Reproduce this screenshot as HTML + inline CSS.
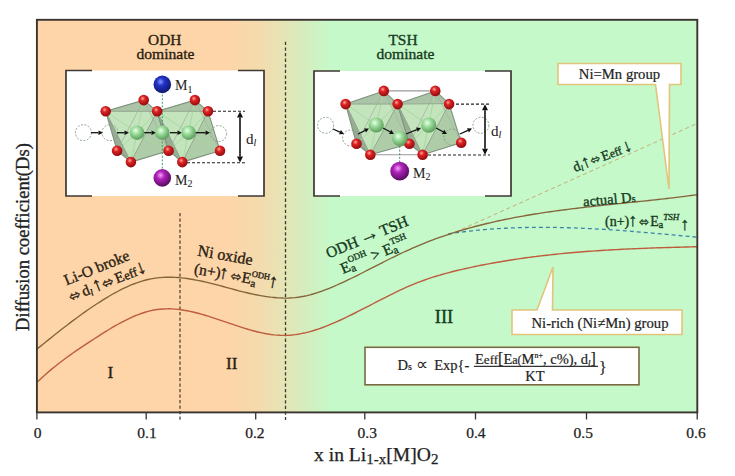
<!DOCTYPE html>
<html><head><meta charset="utf-8"><style>
html,body{margin:0;padding:0;background:#fff;width:735px;height:476px;overflow:hidden}
svg{display:block}
text{font-family:"Liberation Serif", serif}
</style></head><body>
<svg width="735" height="476" viewBox="0 0 735 476">
<defs>
<linearGradient id="bg" x1="37" x2="697" y1="0" y2="0" gradientUnits="userSpaceOnUse">
<stop offset="0" stop-color="#fdd5a8"/>
<stop offset="0.292" stop-color="#fdd5a8"/>
<stop offset="0.342" stop-color="#f2dcae"/>
<stop offset="0.376" stop-color="#e4e5b6"/>
<stop offset="0.41" stop-color="#d4eebf"/>
<stop offset="0.445" stop-color="#c6f9c9"/>
<stop offset="1" stop-color="#c6f9c9"/>
</linearGradient>
<radialGradient id="gred" cx="0.4" cy="0.35" r="0.65"><stop offset="0" stop-color="#ffa8a0"/><stop offset="0.35" stop-color="#dc2424"/><stop offset="1" stop-color="#940a0e"/></radialGradient>
<radialGradient id="ggrn" cx="0.4" cy="0.35" r="0.65"><stop offset="0" stop-color="#e8ffe8"/><stop offset="0.45" stop-color="#96d896"/><stop offset="1" stop-color="#5c9c5c"/></radialGradient>
<radialGradient id="gblu" cx="0.4" cy="0.35" r="0.65"><stop offset="0" stop-color="#8898ff"/><stop offset="0.35" stop-color="#2232c8"/><stop offset="1" stop-color="#101870"/></radialGradient>
<radialGradient id="gpur" cx="0.4" cy="0.35" r="0.65"><stop offset="0" stop-color="#f8a0ff"/><stop offset="0.35" stop-color="#b024b8"/><stop offset="1" stop-color="#560c60"/></radialGradient>
</defs><rect x="37" y="20" width="660" height="392" fill="url(#bg)"/><line x1="180" y1="213" x2="180" y2="420" stroke="#584634" stroke-width="1.3" stroke-dasharray="3.3,2.2"/><line x1="285.5" y1="41.8" x2="285.5" y2="420" stroke="#3c3a2c" stroke-width="1.3" stroke-dasharray="3.3,2.3"/><rect x="66" y="70.5" width="198" height="125.5" fill="#fff"/><path d="M92,70.5 H66 V196 H92" stroke="#3d3833" stroke-width="1.7" fill="none"/><path d="M238,70.5 H264 V196 H238" stroke="#3d3833" stroke-width="1.7" fill="none"/><polygon points="105.7,111.3 143.7,100.1 157.1,111.3 168.6,150.7 130.9,162.1 117.1,150.7" fill="#b8d2b2"/><polygon points="117.1,150.7 130.9,162.1 168.6,150.7" fill="#a8c2a4"/><polygon points="105.7,111.3 143.7,100.1 157.1,111.3" fill="#abc4a7"/><polygon points="105.7,111.3 157.1,111.3 130.9,162.1" fill="#c4e6bc" opacity="0.9"/><polygon points="105.7,111.3 117.1,150.7 130.9,162.1" fill="#97ae94"/><polygon points="157.1,111.3 130.9,162.1 168.6,150.7" fill="#afcca9"/><line x1="137.1" y1="132.7" x2="105.7" y2="111.3" stroke="#a6d89e" stroke-width="0.9"/><line x1="137.1" y1="132.7" x2="143.7" y2="100.1" stroke="#a6d89e" stroke-width="0.9"/><line x1="137.1" y1="132.7" x2="157.1" y2="111.3" stroke="#a6d89e" stroke-width="0.9"/><line x1="137.1" y1="132.7" x2="117.1" y2="150.7" stroke="#a6d89e" stroke-width="0.9"/><line x1="137.1" y1="132.7" x2="130.9" y2="162.1" stroke="#a6d89e" stroke-width="0.9"/><line x1="137.1" y1="132.7" x2="168.6" y2="150.7" stroke="#a6d89e" stroke-width="0.9"/><polyline points="117.1,150.7 143.7,100.1 168.6,150.7" fill="none" stroke="#a0b89c" stroke-width="0.8"/><polygon points="105.7,111.3 143.7,100.1 157.1,111.3 168.6,150.7 130.9,162.1 117.1,150.7" fill="none" stroke="#7f937d" stroke-width="1.1" stroke-linejoin="round"/><polyline points="105.7,111.3 157.1,111.3 130.9,162.1 105.7,111.3" fill="none" stroke="#8ea38c" stroke-width="0.9"/><polygon points="157.1,111.3 194.9,100.1 208,111.3 220,150.7 182.3,162.1 168.6,150.7" fill="#b8d2b2"/><polygon points="168.6,150.7 182.3,162.1 220,150.7" fill="#a8c2a4"/><polygon points="157.1,111.3 194.9,100.1 208,111.3" fill="#abc4a7"/><polygon points="157.1,111.3 208,111.3 182.3,162.1" fill="#c4e6bc" opacity="0.9"/><polygon points="157.1,111.3 168.6,150.7 182.3,162.1" fill="#97ae94"/><polygon points="208,111.3 182.3,162.1 220,150.7" fill="#afcca9"/><line x1="188.6" y1="132.7" x2="157.1" y2="111.3" stroke="#a6d89e" stroke-width="0.9"/><line x1="188.6" y1="132.7" x2="194.9" y2="100.1" stroke="#a6d89e" stroke-width="0.9"/><line x1="188.6" y1="132.7" x2="208" y2="111.3" stroke="#a6d89e" stroke-width="0.9"/><line x1="188.6" y1="132.7" x2="168.6" y2="150.7" stroke="#a6d89e" stroke-width="0.9"/><line x1="188.6" y1="132.7" x2="182.3" y2="162.1" stroke="#a6d89e" stroke-width="0.9"/><line x1="188.6" y1="132.7" x2="220" y2="150.7" stroke="#a6d89e" stroke-width="0.9"/><polyline points="168.6,150.7 194.9,100.1 220,150.7" fill="none" stroke="#a0b89c" stroke-width="0.8"/><polygon points="157.1,111.3 194.9,100.1 208,111.3 220,150.7 182.3,162.1 168.6,150.7" fill="none" stroke="#7f937d" stroke-width="1.1" stroke-linejoin="round"/><polyline points="157.1,111.3 208,111.3 182.3,162.1 157.1,111.3" fill="none" stroke="#8ea38c" stroke-width="0.9"/><line x1="162.3" y1="91" x2="162.3" y2="171" stroke="#3f9a6a" stroke-width="1" stroke-dasharray="2,1.6"/><circle cx="83.4" cy="132.7" r="8" fill="none" stroke="#7f9a80" stroke-width="0.9" stroke-dasharray="2,1.5"/><circle cx="110" cy="132.7" r="8" fill="none" stroke="#7f9a80" stroke-width="0.9" stroke-dasharray="2,1.5"/><circle cx="218.6" cy="133.6" r="8" fill="none" stroke="#7f9a80" stroke-width="0.9" stroke-dasharray="2,1.5"/><line x1="91" y1="132.7" x2="98.5" y2="132.7" stroke="#111" stroke-width="1.3"/><polygon points="103,132.7 98.5,135.0 98.5,130.4" fill="#111"/><line x1="117" y1="132.7" x2="124.5" y2="132.7" stroke="#111" stroke-width="1.3"/><polygon points="129,132.7 124.5,135.0 124.5,130.4" fill="#111"/><line x1="144" y1="132.7" x2="151.5" y2="132.7" stroke="#111" stroke-width="1.3"/><polygon points="156,132.7 151.5,135.0 151.5,130.4" fill="#111"/><line x1="170" y1="132.7" x2="177.5" y2="132.7" stroke="#111" stroke-width="1.3"/><polygon points="182,132.7 177.5,135.0 177.5,130.4" fill="#111"/><line x1="195" y1="132.7" x2="205.5" y2="132.7" stroke="#111" stroke-width="1.3"/><polygon points="210,132.7 205.5,135.0 205.5,130.4" fill="#111"/><circle cx="105.7" cy="111.3" r="5.3" fill="url(#gred)"/><circle cx="143.7" cy="100.1" r="5.3" fill="url(#gred)"/><circle cx="157.1" cy="111.3" r="5.3" fill="url(#gred)"/><circle cx="194.9" cy="100.1" r="5.3" fill="url(#gred)"/><circle cx="208" cy="111.3" r="5.3" fill="url(#gred)"/><circle cx="117.1" cy="150.7" r="5.3" fill="url(#gred)"/><circle cx="130.9" cy="162.1" r="5.3" fill="url(#gred)"/><circle cx="168.6" cy="150.7" r="5.3" fill="url(#gred)"/><circle cx="182.3" cy="162.1" r="5.3" fill="url(#gred)"/><circle cx="220" cy="150.7" r="5.3" fill="url(#gred)"/><circle cx="137.1" cy="132.7" r="7.2" fill="url(#ggrn)"/><circle cx="162.3" cy="132.7" r="7.2" fill="url(#ggrn)"/><circle cx="188.6" cy="132.7" r="7.2" fill="url(#ggrn)"/><circle cx="162.3" cy="84.4" r="8.8" fill="url(#gblu)"/><circle cx="162.3" cy="177.9" r="8.8" fill="url(#gpur)"/><text x="175" y="90" font-size="14" fill="#222222" stroke="#222222" stroke-width="0.05" text-anchor="start" >M<tspan font-size="10" dy="2.5">1</tspan></text><text x="175" y="184.5" font-size="14" fill="#222222" stroke="#222222" stroke-width="0.05" text-anchor="start" >M<tspan font-size="10" dy="2.5">2</tspan></text><line x1="213" y1="111.3" x2="245" y2="111.3" stroke="#222" stroke-width="1.1" stroke-dasharray="3,2"/><line x1="187" y1="162.7" x2="245" y2="162.7" stroke="#222" stroke-width="1.1" stroke-dasharray="3,2"/><line x1="240" y1="137" x2="240.0" y2="117.5" stroke="#111" stroke-width="1.6"/><polygon points="240,111.5 243.0,117.5 237.0,117.5" fill="#111"/><line x1="240" y1="137" x2="240.0" y2="156.5" stroke="#111" stroke-width="1.6"/><polygon points="240,162.5 237.0,156.5 243.0,156.5" fill="#111"/><text x="246" y="144" font-size="15" fill="#222222" stroke="#222222" stroke-width="0.05" text-anchor="start" >d<tspan font-size="10" dy="2" font-style="italic">l</tspan></text><rect x="314" y="71" width="197" height="125" fill="#fff"/><path d="M340,71 H314 V196 H340" stroke="#3d3833" stroke-width="1.7" fill="none"/><path d="M485,71 H511 V196 H485" stroke="#3d3833" stroke-width="1.7" fill="none"/><line x1="383.8" y1="90.9" x2="435.3" y2="90.9" stroke="#9a9a9a" stroke-width="1.1"/><line x1="370.3" y1="154.7" x2="422.6" y2="154.7" stroke="#9a9a9a" stroke-width="1.1"/><polygon points="345.6,104.1 383.8,90.9 397.6,104.1 409.4,143.8 370.3,154.7 356.5,143.8" fill="#b8d2b2"/><polygon points="356.5,143.8 370.3,154.7 409.4,143.8" fill="#a8c2a4"/><polygon points="345.6,104.1 383.8,90.9 397.6,104.1" fill="#abc4a7"/><polygon points="345.6,104.1 397.6,104.1 370.3,154.7" fill="#c4e6bc" opacity="0.9"/><polygon points="345.6,104.1 356.5,143.8 370.3,154.7" fill="#97ae94"/><polygon points="397.6,104.1 370.3,154.7 409.4,143.8" fill="#afcca9"/><line x1="376.2" y1="125" x2="345.6" y2="104.1" stroke="#a6d89e" stroke-width="0.9"/><line x1="376.2" y1="125" x2="383.8" y2="90.9" stroke="#a6d89e" stroke-width="0.9"/><line x1="376.2" y1="125" x2="397.6" y2="104.1" stroke="#a6d89e" stroke-width="0.9"/><line x1="376.2" y1="125" x2="356.5" y2="143.8" stroke="#a6d89e" stroke-width="0.9"/><line x1="376.2" y1="125" x2="370.3" y2="154.7" stroke="#a6d89e" stroke-width="0.9"/><line x1="376.2" y1="125" x2="409.4" y2="143.8" stroke="#a6d89e" stroke-width="0.9"/><polyline points="356.5,143.8 383.8,90.9 409.4,143.8" fill="none" stroke="#a0b89c" stroke-width="0.8"/><polygon points="345.6,104.1 383.8,90.9 397.6,104.1 409.4,143.8 370.3,154.7 356.5,143.8" fill="none" stroke="#7f937d" stroke-width="1.1" stroke-linejoin="round"/><polyline points="345.6,104.1 397.6,104.1 370.3,154.7 345.6,104.1" fill="none" stroke="#8ea38c" stroke-width="0.9"/><polygon points="397.6,104.1 435.3,90.9 449.1,103.6 461.2,142.7 422.6,154.7 409.4,143.8" fill="#b8d2b2"/><polygon points="409.4,143.8 422.6,154.7 461.2,142.7" fill="#a8c2a4"/><polygon points="397.6,104.1 435.3,90.9 449.1,103.6" fill="#abc4a7"/><polygon points="397.6,104.1 449.1,103.6 422.6,154.7" fill="#c4e6bc" opacity="0.9"/><polygon points="397.6,104.1 409.4,143.8 422.6,154.7" fill="#97ae94"/><polygon points="449.1,103.6 422.6,154.7 461.2,142.7" fill="#afcca9"/><line x1="428.7" y1="125.2" x2="397.6" y2="104.1" stroke="#a6d89e" stroke-width="0.9"/><line x1="428.7" y1="125.2" x2="435.3" y2="90.9" stroke="#a6d89e" stroke-width="0.9"/><line x1="428.7" y1="125.2" x2="449.1" y2="103.6" stroke="#a6d89e" stroke-width="0.9"/><line x1="428.7" y1="125.2" x2="409.4" y2="143.8" stroke="#a6d89e" stroke-width="0.9"/><line x1="428.7" y1="125.2" x2="422.6" y2="154.7" stroke="#a6d89e" stroke-width="0.9"/><line x1="428.7" y1="125.2" x2="461.2" y2="142.7" stroke="#a6d89e" stroke-width="0.9"/><polyline points="409.4,143.8 435.3,90.9 461.2,142.7" fill="none" stroke="#a0b89c" stroke-width="0.8"/><polygon points="397.6,104.1 435.3,90.9 449.1,103.6 461.2,142.7 422.6,154.7 409.4,143.8" fill="none" stroke="#7f937d" stroke-width="1.1" stroke-linejoin="round"/><polyline points="397.6,104.1 449.1,103.6 422.6,154.7 397.6,104.1" fill="none" stroke="#8ea38c" stroke-width="0.9"/><line x1="399.7" y1="146" x2="399.7" y2="163" stroke="#3f9a6a" stroke-width="1" stroke-dasharray="2,1.6"/><circle cx="325.6" cy="125.3" r="8" fill="none" stroke="#7f9a80" stroke-width="0.9" stroke-dasharray="2,1.5"/><circle cx="350.6" cy="138" r="8" fill="none" stroke="#7f9a80" stroke-width="0.9" stroke-dasharray="2,1.5"/><circle cx="452" cy="137" r="8" fill="none" stroke="#7f9a80" stroke-width="0.9" stroke-dasharray="2,1.5"/><circle cx="480.9" cy="125.3" r="8" fill="none" stroke="#7f9a80" stroke-width="0.9" stroke-dasharray="2,1.5"/><line x1="333" y1="129" x2="339.9" y2="132.1" stroke="#111" stroke-width="1.3"/><polygon points="344,134 339.0,134.2 340.9,130.0" fill="#111"/><line x1="358" y1="134" x2="365.0" y2="130.5" stroke="#111" stroke-width="1.3"/><polygon points="369,128.5 366.0,132.6 363.9,128.5" fill="#111"/><line x1="383" y1="128" x2="390.0" y2="131.8" stroke="#111" stroke-width="1.3"/><polygon points="394,134 388.9,133.9 391.2,129.8" fill="#111"/><line x1="406" y1="134" x2="416.8" y2="129.7" stroke="#111" stroke-width="1.3"/><polygon points="421,128 417.7,131.8 416.0,127.5" fill="#111"/><line x1="436" y1="128" x2="443.0" y2="131.8" stroke="#111" stroke-width="1.3"/><polygon points="447,134 441.9,133.9 444.2,129.8" fill="#111"/><line x1="460" y1="134" x2="467.9" y2="130.4" stroke="#111" stroke-width="1.3"/><polygon points="472,128.5 468.9,132.5 467.0,128.3" fill="#111"/><circle cx="345.6" cy="104.1" r="5.3" fill="url(#gred)"/><circle cx="383.8" cy="90.9" r="5.3" fill="url(#gred)"/><circle cx="397.6" cy="104.1" r="5.3" fill="url(#gred)"/><circle cx="435.3" cy="90.9" r="5.3" fill="url(#gred)"/><circle cx="449.1" cy="104.1" r="5.3" fill="url(#gred)"/><circle cx="356.5" cy="143.8" r="5.3" fill="url(#gred)"/><circle cx="370.3" cy="154.7" r="5.3" fill="url(#gred)"/><circle cx="409.4" cy="143.8" r="5.3" fill="url(#gred)"/><circle cx="422.6" cy="154.7" r="5.3" fill="url(#gred)"/><circle cx="461.2" cy="142.7" r="5.3" fill="url(#gred)"/><circle cx="376.2" cy="125" r="7.6" fill="url(#ggrn)"/><circle cx="399.7" cy="138.5" r="7.6" fill="url(#ggrn)"/><circle cx="428.7" cy="125.2" r="7.6" fill="url(#ggrn)"/><circle cx="399.7" cy="171.2" r="9.4" fill="url(#gpur)"/><text x="413" y="177.5" font-size="14" fill="#222222" stroke="#222222" stroke-width="0.05" text-anchor="start" >M<tspan font-size="10" dy="2.5">2</tspan></text><line x1="456" y1="104.1" x2="490" y2="104.1" stroke="#222" stroke-width="1.1" stroke-dasharray="3,2"/><line x1="428" y1="155" x2="490" y2="155" stroke="#222" stroke-width="1.1" stroke-dasharray="3,2"/><line x1="485" y1="130" x2="485.0" y2="110.3" stroke="#111" stroke-width="1.6"/><polygon points="485,104.3 488.0,110.3 482.0,110.3" fill="#111"/><line x1="485" y1="130" x2="485.0" y2="148.8" stroke="#111" stroke-width="1.6"/><polygon points="485,154.8 482.0,148.8 488.0,148.8" fill="#111"/><text x="491" y="135.5" font-size="15" fill="#222222" stroke="#222222" stroke-width="0.05" text-anchor="start" >d<tspan font-size="10" dy="2" font-style="italic">l</tspan></text><line x1="449" y1="235" x2="697" y2="123.5" stroke="#c8aa74" stroke-width="1" stroke-dasharray="4,3"/><path d="M448.2,233.92 L451.2,233.47 L454.2,233.04 L457.2,232.62 L460.2,232.23 L463.2,231.85 L466.2,231.48 L469.2,231.14 L472.2,230.81 L475.2,230.50 L478.2,230.20 L481.2,229.92 L484.2,229.66 L487.2,229.41 L490.2,229.18 L493.2,228.96 L496.2,228.76 L499.2,228.57 L502.2,228.39 L505.2,228.23 L508.2,228.09 L511.2,227.95 L514.2,227.83 L517.2,227.73 L520.2,227.63 L523.2,227.55 L526.2,227.49 L529.2,227.43 L532.2,227.39 L535.2,227.36 L538.2,227.34 L541.2,227.33 L544.2,227.33 L547.2,227.35 L550.2,227.37 L553.2,227.41 L556.2,227.45 L559.2,227.51 L562.2,227.58 L565.2,227.65 L568.2,227.74 L571.2,227.83 L574.2,227.93 L577.2,228.05 L580.2,228.17 L583.2,228.30 L586.2,228.43 L589.2,228.58 L592.2,228.73 L595.2,228.89 L598.2,229.06 L601.2,229.23 L604.2,229.42 L607.2,229.60 L610.2,229.80 L613.2,230.00 L616.2,230.20 L619.2,230.42 L622.2,230.63 L625.2,230.86 L628.2,231.08 L631.2,231.32 L634.2,231.55 L637.2,231.79 L640.2,232.04 L643.2,232.29 L646.2,232.54 L649.2,232.80 L652.2,233.06 L655.2,233.32 L658.2,233.59 L661.2,233.85 L664.2,234.12 L667.2,234.40 L670.2,234.67 L673.2,234.95 L676.2,235.22 L679.2,235.50 L682.2,235.78 L685.2,236.06 L688.2,236.34 L691.2,236.63 L697.0,237.17" fill="none" stroke="#3a84a8" stroke-width="1.3" stroke-dasharray="4,3"/><path d="M37.0,349.08 L40.0,346.64 L43.0,344.20 L46.0,341.77 L49.0,339.35 L52.0,336.95 L55.0,334.56 L58.0,332.19 L61.0,329.84 L64.0,327.50 L67.0,325.19 L70.0,322.91 L73.0,320.65 L76.0,318.42 L79.0,316.22 L82.0,314.05 L85.0,311.91 L88.0,309.82 L91.0,307.75 L94.0,305.73 L97.0,303.75 L100.0,301.81 L103.0,299.92 L106.0,298.08 L109.0,296.28 L112.0,294.54 L115.0,292.86 L118.0,291.24 L121.0,289.69 L124.0,288.21 L127.0,286.81 L130.0,285.49 L133.0,284.25 L136.0,283.10 L139.0,282.05 L142.0,281.09 L145.0,280.24 L148.0,279.49 L151.0,278.86 L154.0,278.33 L157.0,277.91 L160.0,277.59 L163.0,277.37 L166.0,277.23 L169.0,277.19 L172.0,277.23 L175.0,277.35 L178.0,277.54 L181.0,277.81 L184.0,278.14 L187.0,278.53 L190.0,278.98 L193.0,279.49 L196.0,280.04 L199.0,280.64 L202.0,281.28 L205.0,281.95 L208.0,282.66 L211.0,283.39 L214.0,284.15 L217.0,284.93 L220.0,285.72 L223.0,286.52 L226.0,287.33 L229.0,288.13 L232.0,288.94 L235.0,289.74 L238.0,290.53 L241.0,291.30 L244.0,292.05 L247.0,292.77 L250.0,293.47 L253.0,294.14 L256.0,294.77 L259.0,295.35 L262.0,295.89 L265.0,296.38 L268.0,296.82 L271.0,297.20 L274.0,297.51 L277.0,297.76 L280.0,297.93 L283.0,298.03 L286.0,298.05 L289.0,297.98 L292.0,297.83 L295.0,297.58 L298.0,297.23 L301.0,296.78 L304.0,296.23 L307.0,295.58 L310.0,294.83 L313.0,294.00 L316.0,293.09 L319.0,292.11 L322.0,291.06 L325.0,289.94 L328.0,288.78 L331.0,287.56 L334.0,286.30 L337.0,285.00 L340.0,283.66 L343.0,282.29 L346.0,280.89 L349.0,279.45 L352.0,278.00 L355.0,276.52 L358.0,275.03 L361.0,273.51 L364.0,271.99 L367.0,270.46 L370.0,268.92 L373.0,267.38 L376.0,265.84 L379.0,264.31 L382.0,262.78 L385.0,261.26 L388.0,259.75 L391.0,258.26 L394.0,256.79 L397.0,255.34 L400.0,253.92 L403.0,252.51 L406.0,251.13 L409.0,249.77 L412.0,248.43 L415.0,247.12 L418.0,245.84 L421.0,244.59 L424.0,243.36 L427.0,242.16 L430.0,240.99 L433.0,239.85 L436.0,238.74 L439.0,237.65 L442.0,236.59 L445.0,235.55 L448.0,234.55 L451.0,233.56 L454.0,232.60 L457.0,231.67 L460.0,230.75 L463.0,229.87 L466.0,229.00 L469.0,228.15 L472.0,227.33 L475.0,226.52 L478.0,225.74 L481.0,224.98 L484.0,224.23 L487.0,223.50 L490.0,222.79 L493.0,222.10 L496.0,221.43 L499.0,220.77 L502.0,220.13 L505.0,219.50 L508.0,218.89 L511.0,218.30 L514.0,217.71 L517.0,217.15 L520.0,216.59 L523.0,216.06 L526.0,215.53 L529.0,215.02 L532.0,214.51 L535.0,214.02 L538.0,213.55 L541.0,213.08 L544.0,212.62 L547.0,212.18 L550.0,211.74 L553.0,211.32 L556.0,210.90 L559.0,210.50 L562.0,210.10 L565.0,209.71 L568.0,209.32 L571.0,208.95 L574.0,208.58 L577.0,208.22 L580.0,207.86 L583.0,207.51 L586.0,207.17 L589.0,206.83 L592.0,206.49 L595.0,206.16 L598.0,205.83 L601.0,205.51 L604.0,205.19 L607.0,204.87 L610.0,204.56 L613.0,204.24 L616.0,203.93 L619.0,203.62 L622.0,203.31 L625.0,203.00 L628.0,202.69 L631.0,202.38 L634.0,202.07 L637.0,201.76 L640.0,201.45 L643.0,201.14 L646.0,200.82 L649.0,200.50 L652.0,200.18 L655.0,199.85 L658.0,199.52 L661.0,199.19 L664.0,198.85 L667.0,198.50 L670.0,198.16 L673.0,197.80 L676.0,197.44 L679.0,197.07 L682.0,196.70 L685.0,196.32 L688.0,195.93 L691.0,195.53 L694.0,195.13 L697.0,194.71" fill="none" stroke="#84643a" stroke-width="1.35"/><path d="M37.0,382.37 L40.0,379.48 L43.0,376.69 L46.0,374.00 L49.0,371.39 L52.0,368.86 L55.0,366.42 L58.0,364.04 L61.0,361.73 L64.0,359.48 L67.0,357.28 L70.0,355.13 L73.0,353.02 L76.0,350.95 L79.0,348.91 L82.0,346.90 L85.0,344.91 L88.0,342.93 L91.0,340.96 L94.0,339.00 L97.0,337.05 L100.0,335.12 L103.0,333.21 L106.0,331.34 L109.0,329.49 L112.0,327.69 L115.0,325.94 L118.0,324.24 L121.0,322.60 L124.0,321.02 L127.0,319.51 L130.0,318.08 L133.0,316.73 L136.0,315.47 L139.0,314.30 L142.0,313.23 L145.0,312.27 L148.0,311.41 L151.0,310.67 L154.0,310.05 L157.0,309.56 L160.0,309.20 L163.0,308.96 L166.0,308.83 L169.0,308.82 L172.0,308.91 L175.0,309.09 L178.0,309.38 L181.0,309.75 L184.0,310.20 L187.0,310.73 L190.0,311.33 L193.0,312.00 L196.0,312.73 L199.0,313.52 L202.0,314.35 L205.0,315.23 L208.0,316.14 L211.0,317.09 L214.0,318.07 L217.0,319.07 L220.0,320.08 L223.0,321.11 L226.0,322.14 L229.0,323.17 L232.0,324.20 L235.0,325.21 L238.0,326.21 L241.0,327.18 L244.0,328.13 L247.0,329.04 L250.0,329.91 L253.0,330.74 L256.0,331.52 L259.0,332.25 L262.0,332.91 L265.0,333.51 L268.0,334.03 L271.0,334.48 L274.0,334.84 L277.0,335.12 L280.0,335.30 L283.0,335.38 L286.0,335.35 L289.0,335.22 L292.0,334.98 L295.0,334.64 L298.0,334.21 L301.0,333.68 L304.0,333.06 L307.0,332.36 L310.0,331.58 L313.0,330.72 L316.0,329.79 L319.0,328.79 L322.0,327.73 L325.0,326.61 L328.0,325.43 L331.0,324.20 L334.0,322.92 L337.0,321.61 L340.0,320.25 L343.0,318.85 L346.0,317.43 L349.0,315.98 L352.0,314.50 L355.0,313.00 L358.0,311.49 L361.0,309.95 L364.0,308.41 L367.0,306.86 L370.0,305.30 L373.0,303.75 L376.0,302.19 L379.0,300.64 L382.0,299.10 L385.0,297.57 L388.0,296.05 L391.0,294.56 L394.0,293.08 L397.0,291.63 L400.0,290.21 L403.0,288.82 L406.0,287.47 L409.0,286.15 L412.0,284.87 L415.0,283.65 L418.0,282.46 L421.0,281.33 L424.0,280.23 L427.0,279.18 L430.0,278.17 L433.0,277.19 L436.0,276.26 L439.0,275.35 L442.0,274.48 L445.0,273.64 L448.0,272.83 L451.0,272.05 L454.0,271.29 L457.0,270.55 L460.0,269.84 L463.0,269.15 L466.0,268.47 L469.0,267.81 L472.0,267.17 L475.0,266.54 L478.0,265.92 L481.0,265.31 L484.0,264.73 L487.0,264.15 L490.0,263.59 L493.0,263.04 L496.0,262.50 L499.0,261.98 L502.0,261.46 L505.0,260.96 L508.0,260.48 L511.0,260.00 L514.0,259.54 L517.0,259.09 L520.0,258.65 L523.0,258.22 L526.0,257.80 L529.0,257.40 L532.0,257.00 L535.0,256.61 L538.0,256.24 L541.0,255.88 L544.0,255.52 L547.0,255.18 L550.0,254.84 L553.0,254.52 L556.0,254.20 L559.0,253.90 L562.0,253.60 L565.0,253.31 L568.0,253.03 L571.0,252.76 L574.0,252.50 L577.0,252.24 L580.0,252.00 L583.0,251.76 L586.0,251.53 L589.0,251.30 L592.0,251.09 L595.0,250.88 L598.0,250.68 L601.0,250.48 L604.0,250.29 L607.0,250.11 L610.0,249.93 L613.0,249.76 L616.0,249.60 L619.0,249.44 L622.0,249.29 L625.0,249.14 L628.0,249.00 L631.0,248.86 L634.0,248.73 L637.0,248.60 L640.0,248.47 L643.0,248.36 L646.0,248.24 L649.0,248.13 L652.0,248.02 L655.0,247.92 L658.0,247.82 L661.0,247.72 L664.0,247.63 L667.0,247.53 L670.0,247.45 L673.0,247.36 L676.0,247.28 L679.0,247.20 L682.0,247.12 L685.0,247.04 L688.0,246.96 L691.0,246.89 L694.0,246.81 L697.0,246.74" fill="none" stroke="#be5c3e" stroke-width="1.4"/><rect x="36.9" y="19.8" width="660.4" height="392.6" fill="none" stroke="#3a3430" stroke-width="1.9"/><line x1="36.9" y1="412" x2="36.9" y2="419.5" stroke="#333" stroke-width="1.3"/><text x="37.6" y="438.3" font-size="15.5" fill="#222222" stroke="#222222" stroke-width="0.25" text-anchor="middle" >0</text><line x1="146.2" y1="412" x2="146.2" y2="419.5" stroke="#333" stroke-width="1.3"/><text x="147.0" y="438.3" font-size="15.5" fill="#222222" stroke="#222222" stroke-width="0.25" text-anchor="middle" >0.1</text><line x1="255.7" y1="412" x2="255.7" y2="419.5" stroke="#333" stroke-width="1.3"/><text x="254.9" y="438.3" font-size="15.5" fill="#222222" stroke="#222222" stroke-width="0.25" text-anchor="middle" >0.2</text><line x1="364.8" y1="412" x2="364.8" y2="419.5" stroke="#333" stroke-width="1.3"/><text x="367.2" y="438.3" font-size="15.5" fill="#222222" stroke="#222222" stroke-width="0.25" text-anchor="middle" >0.3</text><line x1="475.5" y1="412" x2="475.5" y2="419.5" stroke="#333" stroke-width="1.3"/><text x="475.9" y="438.3" font-size="15.5" fill="#222222" stroke="#222222" stroke-width="0.25" text-anchor="middle" >0.4</text><line x1="586.5" y1="412" x2="586.5" y2="419.5" stroke="#333" stroke-width="1.3"/><text x="583.2" y="438.3" font-size="15.5" fill="#222222" stroke="#222222" stroke-width="0.25" text-anchor="middle" >0.5</text><line x1="697.2" y1="412" x2="697.2" y2="419.5" stroke="#333" stroke-width="1.3"/><text x="696.0" y="438.3" font-size="15.5" fill="#222222" stroke="#222222" stroke-width="0.25" text-anchor="middle" >0.6</text><path d="M558,63.5 H681 V84.5 H669.5 L669,189 L655.5,84.5 H558 Z" fill="#fff" stroke="#e2c47c" stroke-width="1.6"/><text x="619.5" y="79" font-size="14.7" fill="#222222" stroke="#222222" stroke-width="0.2" text-anchor="middle" >Ni=Mn group</text><path d="M512,310 H537 L553,267 L552.5,310 H682 V334.5 H512 Z" fill="#fff" stroke="#e2c47c" stroke-width="1.6"/><text x="600" y="328" font-size="14.7" fill="#222222" stroke="#222222" stroke-width="0.2" text-anchor="middle" >Ni-rich (Ni≠Mn) group</text><rect x="365" y="347.3" width="274" height="37.5" fill="#fff" stroke="#7a6a40" stroke-width="1.6"/><text x="397.5" y="370" font-size="14.5" fill="#222222" stroke="#222222" stroke-width="0.2" text-anchor="start" >D<tspan font-size="10">s</tspan> <tspan font-size="17" stroke="none">∝</tspan> <tspan dx="3">Exp{-</tspan></text><line x1="474" y1="366.4" x2="598" y2="366.4" stroke="#333" stroke-width="1.3"/><text x="475" y="363.5" font-size="14.5" fill="#222222" stroke="#222222" stroke-width="0.2" text-anchor="start" >E<tspan font-size="13">eff</tspan><tspan font-size="16">[</tspan>E<tspan font-size="12">a(</tspan>M<tspan font-size="8" dy="-6">n+</tspan><tspan dy="6">, c%), d</tspan><tspan font-size="9" font-style="italic" dy="2">l</tspan><tspan font-size="16" dy="-2">]</tspan></text><text x="535" y="380.5" font-size="14.5" fill="#222222" stroke="#222222" stroke-width="0.2" text-anchor="middle" >KT</text><text x="599" y="372.5" font-size="16" fill="#222222" stroke="#222222" stroke-width="0.15" text-anchor="start" >}</text><text x="164.8" y="44.7" font-size="15.4" fill="#2b1d12" stroke="#2b1d12" stroke-width="0.35" text-anchor="middle" >ODH</text><text x="165.5" y="59" font-size="15.6" fill="#2b1d12" stroke="#2b1d12" stroke-width="0.35" text-anchor="middle" >dominate</text><text x="403" y="44.7" font-size="15.4" fill="#173a22" stroke="#173a22" stroke-width="0.35" text-anchor="middle" >TSH</text><text x="405.5" y="59" font-size="15.6" fill="#173a22" stroke="#173a22" stroke-width="0.35" text-anchor="middle" >dominate</text><text x="110.4" y="378.2" font-size="17.5" fill="#2b1d12" stroke="#2b1d12" stroke-width="0.35" text-anchor="middle" >I</text><text x="231.7" y="369" font-size="17.2" fill="#2b1d12" stroke="#2b1d12" stroke-width="0.35" text-anchor="middle" >II</text><text x="444" y="322.8" font-size="18.5" fill="#173a22" stroke="#173a22" stroke-width="0.35" text-anchor="middle" >III</text><text x="66.5" y="285.5" font-size="15.5" fill="#2b1d12" stroke="#2b1d12" stroke-width="0.35" text-anchor="start" transform="rotate(-22 66.5 285.5)" >Li-O broke</text><text x="71.5" y="301.5" font-size="15" fill="#2b1d12" stroke="#2b1d12" stroke-width="0.35" text-anchor="start" transform="rotate(-21.5 71.5 301.5)" ><tspan font-size="14">⬄</tspan><tspan dx="1.5">d</tspan><tspan font-size="9" font-style="italic" dy="2">l</tspan><tspan dy="-2" dx="1.5" font-size="20">↑</tspan><tspan font-size="14">⬄</tspan><tspan dx="2">E</tspan><tspan font-size="12.5">eff</tspan><tspan font-size="20">↓</tspan></text><text x="197" y="255.5" font-size="16" fill="#2b1d12" stroke="#2b1d12" stroke-width="0.35" text-anchor="start" transform="rotate(10 197 255.5)" >Ni oxide</text><text x="193.5" y="273.5" font-size="15.5" fill="#2b1d12" stroke="#2b1d12" stroke-width="0.35" text-anchor="start" transform="rotate(10 193.5 273.5)" >(n+)<tspan dx="-2" font-size="19">↑</tspan><tspan dx="3" font-size="13">⬄</tspan>E<tspan font-size="11" dy="3">a</tspan><tspan font-size="8.5" dx="-5" dy="-10">ODH</tspan><tspan dx="-1" dy="7" font-size="19">↑</tspan></text><text x="328.5" y="258.5" font-size="15.5" fill="#173a22" stroke="#173a22" stroke-width="0.35" text-anchor="start" transform="rotate(-22.5 328.5 258.5)" >ODH<tspan dx="2.5" font-size="20" dy="-0.5">→</tspan><tspan dx="2" dy="0.5">TSH</tspan></text><text x="343" y="274" font-size="15.5" fill="#173a22" stroke="#173a22" stroke-width="0.35" text-anchor="start" transform="rotate(-23 343 274)" >E<tspan font-size="11" dy="2">a</tspan><tspan font-size="9" dx="-4.5" dy="-10">ODH</tspan><tspan dy="8"> &gt; E</tspan><tspan font-size="11" dy="2">a</tspan><tspan font-size="9" dx="-4.5" dy="-10">TSH</tspan></text><text x="575" y="172" font-size="14" fill="#173a22" stroke="#173a22" stroke-width="0.35" text-anchor="start" transform="rotate(-21 575 172)" >d<tspan font-size="8" dy="2" font-style="italic">l</tspan><tspan dy="-2" font-size="18">↑</tspan><tspan font-size="12">⬄</tspan><tspan dx="2">E</tspan><tspan font-size="11.5">eff</tspan><tspan dx="2" font-size="18">↓</tspan></text><text x="583.5" y="206.5" font-size="14.5" fill="#173a22" stroke="#173a22" stroke-width="0.35" text-anchor="start" transform="rotate(-5.3 583.5 206.5)" >actual D<tspan font-size="10">s</tspan></text><text x="605" y="226.3" font-size="14" fill="#173a22" stroke="#173a22" stroke-width="0.35" text-anchor="start" >(n+)<tspan dx="-1" font-size="18">↑</tspan><tspan dx="2" font-size="12">⬄</tspan><tspan dx="1">E</tspan><tspan font-size="10" dy="2">a</tspan><tspan font-size="9" font-style="italic" dy="-8">TSH</tspan><tspan dy="10" dx="1" font-size="18">↑</tspan></text><text x="0" y="0" font-size="18.6" fill="#222222" stroke="#222222" stroke-width="0.35" text-anchor="middle" transform="translate(28.5,237) rotate(-90)">Diffusion coefficient(Ds)</text><text x="314" y="461" font-size="19.6" fill="#222222" stroke="#222222" stroke-width="0.25" text-anchor="start" >x in Li<tspan font-size="15" dy="3">1-x</tspan><tspan dy="-3">[M]O</tspan><tspan font-size="15" dy="3">2</tspan></text>
</svg></body></html>
